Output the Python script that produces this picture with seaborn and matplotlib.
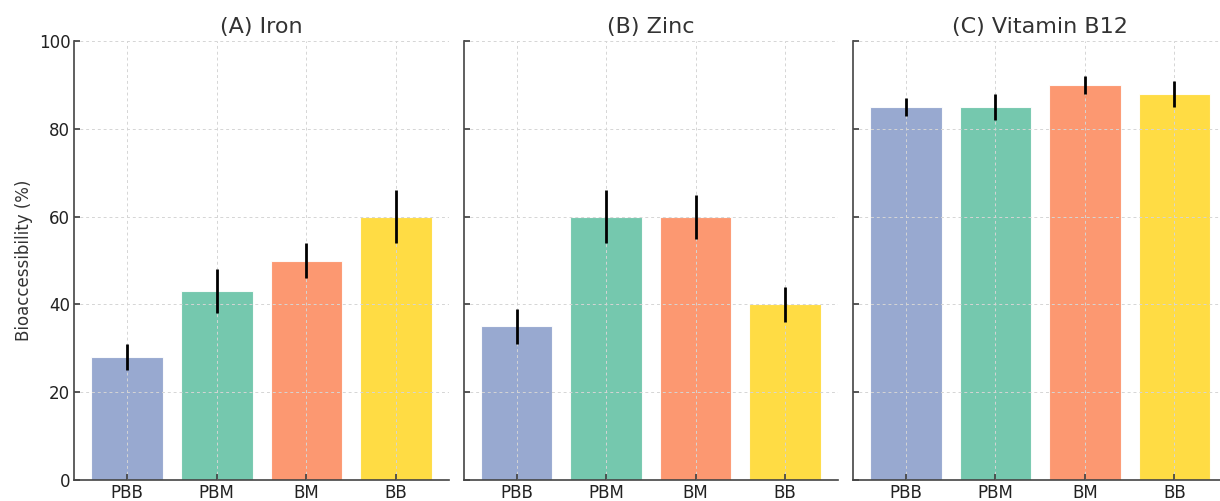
import numpy as np
import pandas as pd
import matplotlib
matplotlib.use("Agg")
import matplotlib.pyplot as plt
import seaborn as sns

groups = ['PBB', 'PBM', 'BM', 'BB']
titles = ['(A) Iron', '(B) Zinc', '(C) Vitamin B12']

iron = [28, 43, 50, 60]
iron_err = [3, 5, 4, 6]
zinc = [35, 60, 60, 40]
zinc_err = [4, 6, 5, 4]
b12 = [85, 85, 90, 88]
b12_err = [2, 3, 2, 3]

colors = ['#8da0cb', '#66c2a5', '#fc8d62', '#ffd92f']

sns.set_theme(style='whitegrid')
plt.rcParams['font.family'] = ['DejaVu Sans']

fig, axes = plt.subplots(1, 3, figsize=(12.2, 5.01), dpi=100, sharey=True)
fig.subplots_adjust(left=0.061, right=1.006, bottom=0.042, top=0.918, wspace=0.04)

series = [(iron, iron_err), (zinc, zinc_err), (b12, b12_err)]
for ax, title, (vals, errs) in zip(axes, titles, series):
    df = pd.DataFrame({'group': groups, 'value': vals})
    sns.barplot(data=df, x='group', y='value', hue='group', palette=colors,
                saturation=1, alpha=0.9, width=0.8, errorbar=None, legend=False,
                linewidth=0.8, edgecolor='#ffffff', ax=ax, zorder=2)
    ax.errorbar(np.arange(len(groups)), vals, yerr=errs, fmt='none',
                ecolor='black', elinewidth=2, capsize=0, zorder=3)
    ax.set_title(title, fontsize=16, color='#333333', pad=6)
    ax.set_xlim(-0.59, 3.59)
    ax.set_ylim(0, 100)
    ax.set_xlabel('')
    ax.set_ylabel('')
    ax.grid(True, linestyle=(0, (3, 3)), color='#d5d5d5', linewidth=0.7, zorder=0)
    ax.set_axisbelow(False)
    for s in ['top', 'right']:
        ax.spines[s].set_visible(False)
    for s in ['left', 'bottom']:
        ax.spines[s].set_color('#444444')
        ax.spines[s].set_linewidth(1.2)
    ax.tick_params(direction='in', length=4, color='#444444', labelsize=12,
                   labelcolor='#222222', left=True, bottom=True, pad=3)

axes[0].set_yticks([0, 20, 40, 60, 80, 100])
axes[0].set_ylabel('Bioaccessibility (%)', fontsize=12, color='#333333')
for ax in axes[1:]:
    ax.tick_params(labelleft=False)

fig.savefig('out.png', dpi=100)
